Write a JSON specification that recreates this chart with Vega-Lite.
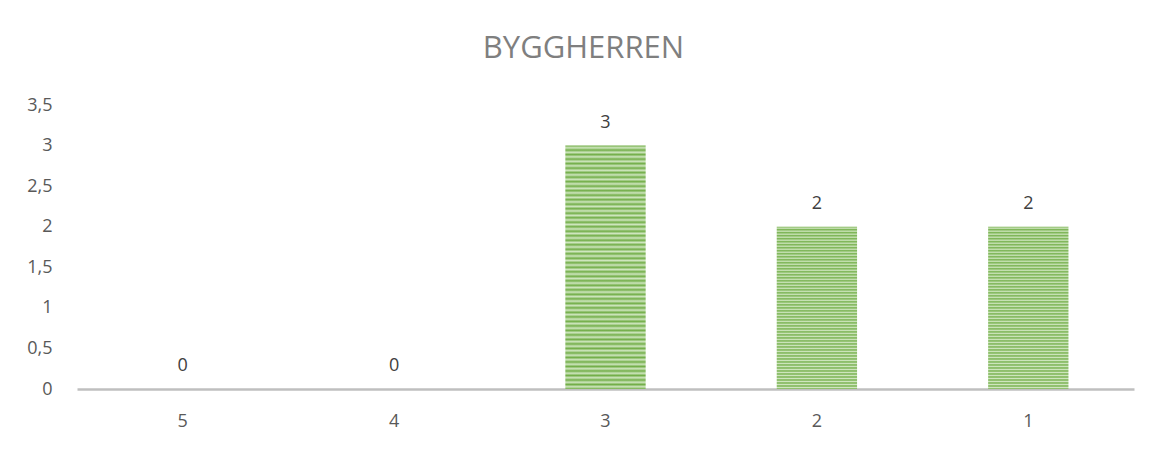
{
  "$schema": "https://vega.github.io/schema/vega-lite/v6.json",
  "width": 1057,
  "height": 284,
  "autosize": {"type": "none"},
  "padding": {"left": 77, "top": 105, "right": 21, "bottom": 61},
  "background": "white",
  "config": {
    "view": {"stroke": null},
    "font": "Open Sans",
    "locale": {"number": {"decimal": ",", "thousands": " ", "grouping": [3], "currency": ["", " kr"]}}
  },
  "title": {
    "text": "BYGGHERREN",
    "fontSize": 31,
    "font": "Open Sans",
    "fontWeight": "normal",
    "color": "#7f7f7f",
    "offset": 31,
    "dx": -22,
    "anchor": "middle"
  },
  "data": {
    "values": [
      {"category": "5", "value": 0},
      {"category": "4", "value": 0},
      {"category": "3", "value": 3},
      {"category": "2", "value": 2},
      {"category": "1", "value": 2}
    ]
  },
  "encoding": {
    "x": {
      "field": "category",
      "type": "nominal",
      "sort": ["5", "4", "3", "2", "1"],
      "scale": {"paddingInner": 0.62, "paddingOuter": 0.31},
      "axis": {
        "title": null,
        "labelAngle": 0,
        "ticks": false,
        "grid": false,
        "domainColor": "#bfbfbf",
        "domainWidth": 2.5,
        "labelPadding": 23,
        "labelFontSize": 18,
        "labelColor": "#595959",
        "labelFont": "Open Sans"
      }
    },
    "y": {
      "field": "value",
      "type": "quantitative",
      "scale": {"domain": [0, 3.5], "nice": false},
      "axis": {
        "title": null,
        "values": [0, 0.5, 1, 1.5, 2, 2.5, 3, 3.5],
        "format": ".2~f",
        "domain": false,
        "ticks": false,
        "grid": false,
        "labelPadding": 25,
        "labelFontSize": 18,
        "labelColor": "#595959",
        "labelFont": "Open Sans"
      }
    }
  },
  "layer": [
    {
      "mark": {
        "type": "bar",
        "fill": {
          "gradient": "linear",
          "x1": 0, "y1": 0, "x2": 0, "y2": 1,
          "stops": [
            {"offset": 0, "color": "#72ae48"},
            {"offset": 0.00926, "color": "#cfe6bf"},
            {"offset": 0.01852, "color": "#72ae48"},
            {"offset": 0.02778, "color": "#cfe6bf"},
            {"offset": 0.03704, "color": "#72ae48"},
            {"offset": 0.0463, "color": "#cfe6bf"},
            {"offset": 0.05556, "color": "#72ae48"},
            {"offset": 0.06481, "color": "#cfe6bf"},
            {"offset": 0.07407, "color": "#72ae48"},
            {"offset": 0.08333, "color": "#cfe6bf"},
            {"offset": 0.09259, "color": "#72ae48"},
            {"offset": 0.10185, "color": "#cfe6bf"},
            {"offset": 0.11111, "color": "#72ae48"},
            {"offset": 0.12037, "color": "#cfe6bf"},
            {"offset": 0.12963, "color": "#72ae48"},
            {"offset": 0.13889, "color": "#cfe6bf"},
            {"offset": 0.14815, "color": "#72ae48"},
            {"offset": 0.15741, "color": "#cfe6bf"},
            {"offset": 0.16667, "color": "#72ae48"},
            {"offset": 0.17593, "color": "#cfe6bf"},
            {"offset": 0.18519, "color": "#72ae48"},
            {"offset": 0.19444, "color": "#cfe6bf"},
            {"offset": 0.2037, "color": "#72ae48"},
            {"offset": 0.21296, "color": "#cfe6bf"},
            {"offset": 0.22222, "color": "#72ae48"},
            {"offset": 0.23148, "color": "#cfe6bf"},
            {"offset": 0.24074, "color": "#72ae48"},
            {"offset": 0.25, "color": "#cfe6bf"},
            {"offset": 0.25926, "color": "#72ae48"},
            {"offset": 0.26852, "color": "#cfe6bf"},
            {"offset": 0.27778, "color": "#72ae48"},
            {"offset": 0.28704, "color": "#cfe6bf"},
            {"offset": 0.2963, "color": "#72ae48"},
            {"offset": 0.30556, "color": "#cfe6bf"},
            {"offset": 0.31481, "color": "#72ae48"},
            {"offset": 0.32407, "color": "#cfe6bf"},
            {"offset": 0.33333, "color": "#72ae48"},
            {"offset": 0.34259, "color": "#cfe6bf"},
            {"offset": 0.35185, "color": "#72ae48"},
            {"offset": 0.36111, "color": "#cfe6bf"},
            {"offset": 0.37037, "color": "#72ae48"},
            {"offset": 0.37963, "color": "#cfe6bf"},
            {"offset": 0.38889, "color": "#72ae48"},
            {"offset": 0.39815, "color": "#cfe6bf"},
            {"offset": 0.40741, "color": "#72ae48"},
            {"offset": 0.41667, "color": "#cfe6bf"},
            {"offset": 0.42593, "color": "#72ae48"},
            {"offset": 0.43519, "color": "#cfe6bf"},
            {"offset": 0.44444, "color": "#72ae48"},
            {"offset": 0.4537, "color": "#cfe6bf"},
            {"offset": 0.46296, "color": "#72ae48"},
            {"offset": 0.47222, "color": "#cfe6bf"},
            {"offset": 0.48148, "color": "#72ae48"},
            {"offset": 0.49074, "color": "#cfe6bf"},
            {"offset": 0.5, "color": "#72ae48"},
            {"offset": 0.50926, "color": "#cfe6bf"},
            {"offset": 0.51852, "color": "#72ae48"},
            {"offset": 0.52778, "color": "#cfe6bf"},
            {"offset": 0.53704, "color": "#72ae48"},
            {"offset": 0.5463, "color": "#cfe6bf"},
            {"offset": 0.55556, "color": "#72ae48"},
            {"offset": 0.56481, "color": "#cfe6bf"},
            {"offset": 0.57407, "color": "#72ae48"},
            {"offset": 0.58333, "color": "#cfe6bf"},
            {"offset": 0.59259, "color": "#72ae48"},
            {"offset": 0.60185, "color": "#cfe6bf"},
            {"offset": 0.61111, "color": "#72ae48"},
            {"offset": 0.62037, "color": "#cfe6bf"},
            {"offset": 0.62963, "color": "#72ae48"},
            {"offset": 0.63889, "color": "#cfe6bf"},
            {"offset": 0.64815, "color": "#72ae48"},
            {"offset": 0.65741, "color": "#cfe6bf"},
            {"offset": 0.66667, "color": "#72ae48"},
            {"offset": 0.67593, "color": "#cfe6bf"},
            {"offset": 0.68519, "color": "#72ae48"},
            {"offset": 0.69444, "color": "#cfe6bf"},
            {"offset": 0.7037, "color": "#72ae48"},
            {"offset": 0.71296, "color": "#cfe6bf"},
            {"offset": 0.72222, "color": "#72ae48"},
            {"offset": 0.73148, "color": "#cfe6bf"},
            {"offset": 0.74074, "color": "#72ae48"},
            {"offset": 0.75, "color": "#cfe6bf"},
            {"offset": 0.75926, "color": "#72ae48"},
            {"offset": 0.76852, "color": "#cfe6bf"},
            {"offset": 0.77778, "color": "#72ae48"},
            {"offset": 0.78704, "color": "#cfe6bf"},
            {"offset": 0.7963, "color": "#72ae48"},
            {"offset": 0.80556, "color": "#cfe6bf"},
            {"offset": 0.81481, "color": "#72ae48"},
            {"offset": 0.82407, "color": "#cfe6bf"},
            {"offset": 0.83333, "color": "#72ae48"},
            {"offset": 0.84259, "color": "#cfe6bf"},
            {"offset": 0.85185, "color": "#72ae48"},
            {"offset": 0.86111, "color": "#cfe6bf"},
            {"offset": 0.87037, "color": "#72ae48"},
            {"offset": 0.87963, "color": "#cfe6bf"},
            {"offset": 0.88889, "color": "#72ae48"},
            {"offset": 0.89815, "color": "#cfe6bf"},
            {"offset": 0.90741, "color": "#72ae48"},
            {"offset": 0.91667, "color": "#cfe6bf"},
            {"offset": 0.92593, "color": "#72ae48"},
            {"offset": 0.93519, "color": "#cfe6bf"},
            {"offset": 0.94444, "color": "#72ae48"},
            {"offset": 0.9537, "color": "#cfe6bf"},
            {"offset": 0.96296, "color": "#72ae48"},
            {"offset": 0.97222, "color": "#cfe6bf"},
            {"offset": 0.98148, "color": "#72ae48"},
            {"offset": 0.99074, "color": "#cfe6bf"},
            {"offset": 1, "color": "#72ae48"}
          ]
        }
      }
    },
    {
      "mark": {"type": "text", "dy": -23, "fontSize": 18, "color": "#404040", "font": "Open Sans"},
      "encoding": {"text": {"field": "value", "type": "quantitative"}}
    }
  ]
}
